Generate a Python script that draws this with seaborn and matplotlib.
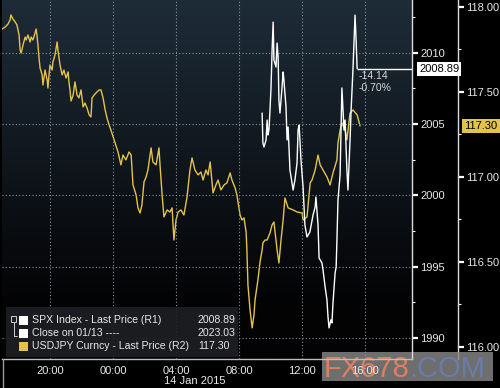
import numpy as np
import pandas as pd
import matplotlib
matplotlib.use('Agg')
import matplotlib.pyplot as plt
import matplotlib.dates as mdates
import matplotlib.transforms as mtransforms
from matplotlib.patches import Rectangle
from matplotlib.lines import Line2D
from matplotlib.ticker import MultipleLocator, FormatStrFormatter
import seaborn as sns

# minutes after 13 Jan 2015 00:00, price
jpy_min = [1017, 1029, 1040, 1048, 1051, 1059, 1067, 1074, 1082, 1086, 1090, 1097, 1105, 1109, 1116, 1124,
           1128, 1135, 1143, 1147, 1150, 1154, 1158, 1162, 1170, 1173, 1181, 1189, 1192, 1196, 1200, 1208,
           1211, 1219, 1227, 1230, 1238, 1246, 1253, 1261, 1269, 1272, 1276, 1280, 1288, 1295, 1303, 1310,
           1318, 1326, 1333, 1341, 1349, 1356, 1360, 1368, 1375, 1387, 1394, 1402, 1410, 1417, 1425, 1432,
           1444, 1459, 1470, 1478, 1489, 1501, 1509, 1516, 1528, 1535, 1543, 1550, 1558, 1566, 1573, 1585,
           1592, 1604, 1615, 1619, 1627, 1634, 1646, 1657, 1665, 1672, 1680, 1688, 1699, 1710, 1722, 1733,
           1741, 1752, 1764, 1775, 1783, 1794, 1802, 1810, 1821, 1832, 1840, 1851, 1863, 1874, 1886, 1893,
           1905, 1912, 1916, 1924, 1931, 1939, 1947, 1950, 1954, 1962, 1970, 1977, 1981, 1992, 2000, 2008,
           2011, 2019, 2027, 2038, 2046, 2053, 2065, 2072, 2080, 2088, 2095, 2107, 2126, 2141, 2160, 2164,
           2179, 2191, 2198, 2210, 2221, 2229, 2240, 2255, 2267, 2278, 2293, 2297, 2305, 2312, 2324, 2331,
           2343, 2354, 2370, 2381]
jpy_px = [117.870, 117.882, 117.900, 117.924, 117.953, 117.929, 117.912, 117.894, 117.835, 117.747,
          117.729, 117.776, 117.823, 117.806, 117.835, 117.794, 117.823, 117.806, 117.847, 117.870,
          117.835, 117.776, 117.700, 117.641, 117.600, 117.541, 117.629, 117.570, 117.523, 117.600,
          117.659, 117.629, 117.676, 117.718, 117.794, 117.747, 117.659, 117.600, 117.629, 117.582,
          117.618, 117.559, 117.512, 117.447, 117.482, 117.559, 117.482, 117.465, 117.512, 117.412,
          117.435, 117.406, 117.365, 117.353, 117.465, 117.482, 117.494, 117.512, 117.512, 117.465,
          117.394, 117.347, 117.306, 117.276, 117.218, 117.147, 117.071, 117.129, 117.100, 117.147,
          117.129, 116.953, 116.894, 116.818, 116.788, 116.835, 116.971, 117.000, 117.041, 117.171,
          117.088, 117.071, 117.171, 117.071, 116.894, 116.765, 116.806, 116.794, 116.818, 116.629,
          116.747, 116.794, 116.806, 116.776, 116.882, 117.041, 117.112, 117.041, 117.012, 117.029,
          116.982, 117.041, 117.012, 117.088, 116.906, 116.953, 116.982, 116.924, 116.953, 116.965,
          117.024, 116.982, 116.935, 116.894, 116.853, 116.776, 116.747, 116.759, 116.676, 116.571,
          116.365, 116.218, 116.112, 116.188, 116.276, 116.394, 116.500, 116.571, 116.612, 116.629,
          116.629, 116.671, 116.718, 116.735, 116.571, 116.494, 116.629, 116.747, 116.876, 116.818,
          116.806, 116.794, 116.788, 116.747, 116.765, 116.965, 116.982, 117.041, 117.129, 117.071,
          117.041, 117.000, 116.953, 117.024, 117.100, 117.200, 117.276, 117.318, 117.276, 117.218,
          117.376, 117.394, 117.365, 117.300]

spx_min = [2008, 2011, 2015, 2023, 2027, 2030, 2034, 2038, 2042, 2046, 2050, 2053, 2061, 2065, 2069, 2072,
           2076, 2084, 2088, 2091, 2099, 2103, 2107, 2114, 2122, 2126, 2133, 2141, 2145, 2149, 2156, 2164,
           2171, 2179, 2190, 2202, 2210, 2213, 2221, 2225, 2236, 2240, 2248, 2255, 2259, 2263, 2270, 2274,
           2278, 2286, 2290, 2293, 2297, 2305, 2312, 2320, 2324, 2331, 2335, 2343, 2347, 2354, 2362, 2366,
           2370]
spx_px = [2005.77, 2003.67, 2003.39, 2003.88, 2005.28, 2004.23, 2004.58, 2005.98, 2007.60, 2010.19,
          2012.15, 2009.49, 2009.00, 2010.68, 2009.70, 2006.68, 2005.77, 2007.60, 2008.65, 2008.09,
          2006.19, 2003.88, 2004.79, 2001.77, 2000.86, 2000.37, 2001.07, 2002.27, 2004.58, 2004.93,
          2002.48, 2000.58, 1997.92, 1997.08, 1997.43, 1998.62, 1999.18, 1999.88, 1997.92, 1995.60,
          1995.25, 1994.76, 1993.57, 1992.66, 1991.47, 1990.70, 1991.26, 1991.05, 1992.45, 1994.55,
          1994.97, 1996.87, 1999.67, 2001.42, 2007.53, 2004.58, 2005.28, 2001.77, 2000.37, 2003.88,
          2005.98, 2008.79, 2012.64, 2010.89, 2008.89]

spx_last = 2008.89
spx_prev_close = 2023.03
spx_chg = -14.14
spx_pct = -0.70
jpy_last = 117.30

spx_ticks = [1990, 1995, 2000, 2005, 2010]
jpy_ticks = [116.0, 116.5, 117.0, 117.5, 118.0]

legend_labels = ['SPX Index - Last Price (R1)', 'Close on 01/13 ----', 'USDJPY Curncy - Last Price (R2)']
legend_values = ['2008.89', '2023.03', '117.30']

YELLOW = '#e3c34a'
TXT = '#e8e8e8'

day0 = pd.Timestamp('2015-01-13')
jpy = pd.DataFrame({'time': day0 + pd.to_timedelta(jpy_min, unit='m'), 'price': jpy_px})
spx = pd.DataFrame({'time': day0 + pd.to_timedelta(spx_min, unit='m'), 'price': spx_px})

sns.set_style('dark')
plt.rcParams['font.family'] = ['Liberation Sans', 'DejaVu Sans']

W, H = 500, 388
fig = plt.figure(figsize=(5, 3.88), dpi=100, facecolor='black')
rect = [2 / W, 1 - 359 / H, 410 / W, 359 / H]


def fx(x):
    return x / W


def fy(y):
    return 1 - y / H


# gradient background (navy -> black)
bg = fig.add_axes(rect, zorder=-1)
top = np.array([30, 44, 56]) / 255
bot = np.array([3, 3, 4]) / 255
t = np.clip(np.linspace(0, 1, 256) / 0.85, 0, 1)[:, None]
grad = top * (1 - t) + bot * t
bg.imshow(grad[:, None, :], aspect='auto', extent=[0, 1, 0, 1])
bg.set_axis_off()

ax = fig.add_axes(rect, zorder=2)
ax2 = ax.twinx()
ax2.set_zorder(1)
ax.patch.set_visible(False)
ax2.patch.set_visible(False)

sns.lineplot(data=jpy, x='time', y='price', ax=ax2, color=YELLOW, lw=1)
sns.lineplot(data=spx, x='time', y='price', ax=ax, color='white', lw=1)
ax.axhline(spx_prev_close, color='white', lw=1, ls='--')

xmin = day0 + pd.Timedelta(minutes=1017)
xmax = day0 + pd.Timedelta(minutes=2579)
ax.set_xlim(xmin, xmax)
ax.set_ylim(1988.52, 2013.70)
ax2.set_ylim(115.929, 118.041)
ax.set(xlabel='', ylabel='')
ax2.set(xlabel='', ylabel='')

# grid
ax.grid(True, which='major', color='#8a949c', linestyle=(0, (1, 2)), linewidth=0.8)
ax2.grid(False)

# x axis
ax.xaxis.set_major_locator(mdates.HourLocator(byhour=range(0, 24, 4)))
ax.xaxis.set_major_formatter(mdates.DateFormatter('%H:%M'))
ax.xaxis.set_minor_locator(mdates.HourLocator(byhour=range(2, 24, 4)))
ax.tick_params(axis='x', which='major', length=0, labelsize=8, labelcolor=TXT, pad=5)
ax.tick_params(axis='x', which='minor', length=2.5, width=0.8, color='#cfcfcf', direction='out')
fig.text(fx(164), fy(381), '14 Jan 2015', fontsize=8, color=TXT, ha='left', va='center')

# SPX axis (R1)
ax.yaxis.tick_right()
ax.set_yticks(spx_ticks)
ax.yaxis.set_major_formatter(FormatStrFormatter('%d'))
ax.yaxis.set_minor_locator(MultipleLocator(2.5))
ax.tick_params(axis='y', which='major', direction='out', length=4, width=1.6, color='white',
               labelsize=8, labelcolor=TXT, pad=2)
ax.tick_params(axis='y', which='minor', direction='out', length=2, width=0.8, color='white')
ax.tick_params(axis='y', left=False, which='both')

# USDJPY axis (R2)
ax2.spines['right'].set_position(('axes', 456 / 410))
ax2.set_yticks(jpy_ticks)
ax2.yaxis.set_major_formatter(FormatStrFormatter('%.2f'))
ax2.yaxis.set_minor_locator(MultipleLocator(0.25))
ax2.tick_params(axis='y', which='major', direction='out', length=4, width=1.6, color='white',
                labelsize=8, labelcolor=TXT, pad=2)
ax2.tick_params(axis='y', which='minor', direction='out', length=2, width=0.8, color='white')

for a in (ax, ax2):
    for s in ('top', 'left'):
        a.spines[s].set_visible(False)
ax2.spines['bottom'].set_visible(False)
for a in (ax, ax2):
    a.spines['right'].set_color('#dcdcdc')
    a.spines['right'].set_linewidth(1)
ax.spines['bottom'].set_color('#bdbdbd')
ax.spines['bottom'].set_linewidth(1)
fig.lines.append(Line2D([fx(2.5), fx(2.5)], [fy(359), fy(388)], transform=fig.transFigure,
                        color='#9a9a9a', lw=1))

# last price markers
last_t = spx['time'].iloc[-1]
ax.hlines(spx_last, last_t, xmax, color='white', lw=1)
ax.annotate(f'{spx_chg:.2f}\n{spx_pct:.2f}%', xy=(last_t, spx_last), xytext=(1, -2),
            textcoords='offset points', ha='left', va='top', fontsize=7.5, color='#d6d6d6',
            linespacing=1.15)
tr1 = mtransforms.blended_transform_factory(ax.transAxes, ax.transData)
ax.text(1.017, spx_last, f'{spx_last:.2f}', transform=tr1, ha='left', va='center', fontsize=8,
        color='black', bbox=dict(boxstyle='square,pad=0.18', fc='white', ec='none'), clip_on=False)
tr2 = mtransforms.blended_transform_factory(ax2.transAxes, ax2.transData)
ax2.text(1.128, jpy_last, f'{jpy_last:.2f}', transform=tr2, ha='left', va='center', fontsize=8,
         color='black', bbox=dict(boxstyle='square,pad=0.22', fc=YELLOW, ec='none'), clip_on=False)

# legend panel
fig.patches.append(Rectangle((fx(6), fy(357)), fx(232), 50 / H, transform=fig.transFigure,
                             fc='#1d1f22', ec='none', alpha=0.92, zorder=5))
row_y = [320, 333, 346]
sq_col = ['white', 'white', YELLOW]
for yy, lab, val, c in zip(row_y, legend_labels, legend_values, sq_col):
    fig.patches.append(Rectangle((fx(19), fy(yy + 4.5)), fx(9), 9 / H, transform=fig.transFigure,
                                 fc=c, ec='none', zorder=6))
    fig.text(fx(32), fy(yy), lab, fontsize=7.6, color=TXT, ha='left', va='center', zorder=7)
    fig.text(fx(198), fy(yy), val, fontsize=7.6, color=TXT, ha='left', va='center', zorder=7)
fig.patches.append(Rectangle((fx(11), fy(322)), fx(5), 6 / H, transform=fig.transFigure,
                             fc='none', ec='#cfcfcf', lw=0.7, zorder=6))
fig.lines.append(Line2D([fx(13.5), fx(13.5), fx(17)], [fy(322), fy(336), fy(336)],
                        transform=fig.transFigure, color='#cfcfcf', lw=0.7, zorder=6))

# watermark (sits under the time labels, as in the source image)
fig.patches.append(Rectangle((fx(322), fy(381)), fx(171), 29 / H, transform=fig.transFigure,
                             fc='#8a8a8a', ec='none', alpha=0.8, zorder=1.5))
wm = fig.text(fx(324), fy(377), 'FX678', fontsize=21, color='#df7f5f', ha='left', va='baseline',
              zorder=1.6)
fig.texts.append(matplotlib.text.Annotation('.COM', xy=(1, 0), xycoords=wm, va='bottom', ha='left',
                                            fontsize=21, color='#6a7ca8', zorder=1.6))
fig.texts[-1].set_figure(fig)

fig.savefig('out.png', dpi=100, facecolor='black')
